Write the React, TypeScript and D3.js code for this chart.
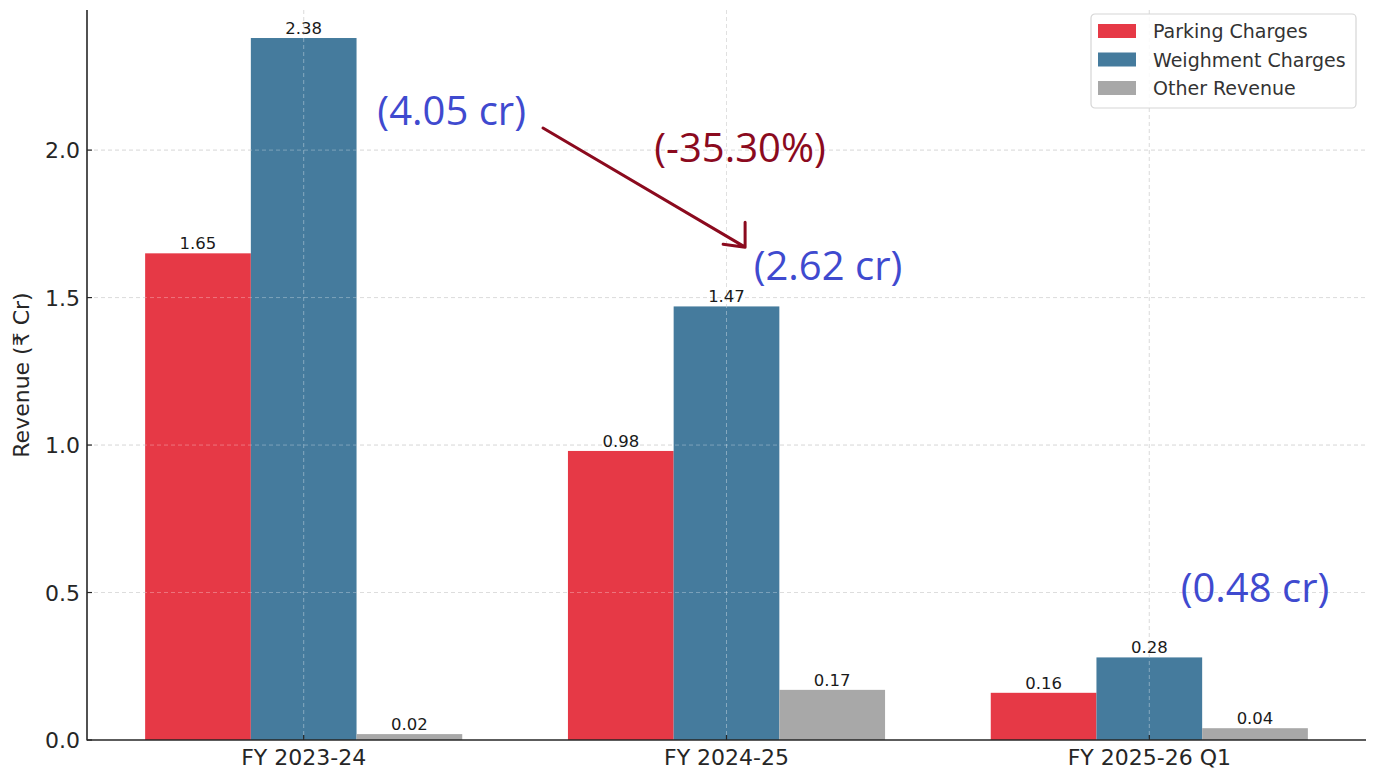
import { useEffect, useRef } from 'react'
import * as d3 from 'd3'

const categories = ['FY 2023-24', 'FY 2024-25', 'FY 2025-26 Q1']
const seriesNames = ['Parking Charges', 'Weighment Charges', 'Other Revenue']
const parking = [1.65, 0.98, 0.16]
const weighment = [2.38, 1.47, 0.28]
const other = [0.02, 0.17, 0.04]
const yTicks = [0.0, 0.5, 1.0, 1.5, 2.0]

// overlay notes, placed in data space (category index, revenue)
const totals = [
  { text: '(4.05 cr)', x: 0.35, y: 2.12 },
  { text: '(2.62 cr)', x: 1.24, y: 1.595 },
  { text: '(0.48 cr)', x: 2.25, y: 0.505 },
]
const changeNote = { text: '(-35.30%)', x: 1.032, y: 1.995 }
const arrowFrom = [0.566, 2.075]
const arrowTo = [1.044, 1.671]

const COLORS = ['#E63946', '#457B9D', '#A8A8A8']
const FONT = 'DejaVu Sans, sans-serif'

export default function App() {
  const svgRef = useRef<SVGSVGElement>(null)

  useEffect(() => {
    if (!svgRef.current) return
    const svg = d3.select(svgRef.current)
    svg.selectAll('*').remove()

    const W = 1375
    const H = 769
    const margin = { top: 10, right: 9, bottom: 29, left: 87 }

    const x = d3.scaleLinear().domain([-0.5125, 2.5125]).range([margin.left, W - margin.right])
    const y = d3.scaleLinear().domain([0, 2.475]).range([H - margin.bottom, margin.top])
    const barW = x(0.25) - x(0)
    const series = [parking, weighment, other]

    // grid
    const grid = svg.append('g')
    yTicks.filter(t => t > 0).forEach(t => {
      grid.append('line')
        .attr('x1', x.range()[0]).attr('x2', x.range()[1])
        .attr('y1', y(t)).attr('y2', y(t))
        .attr('stroke', '#cfcfcf').attr('stroke-width', 1).attr('stroke-dasharray', '4,3')
    })
    categories.forEach((_, i) => {
      grid.append('line')
        .attr('x1', x(i)).attr('x2', x(i))
        .attr('y1', y.range()[1]).attr('y2', y.range()[0])
        .attr('stroke', '#cfcfcf').attr('stroke-width', 1).attr('stroke-dasharray', '4,3')
    })

    // bars
    const bars = svg.append('g')
    series.forEach((vals, s) => {
      vals.forEach((v, i) => {
        const cx = i + (s - 1) * 0.25
        bars.append('rect')
          .attr('x', x(cx - 0.125)).attr('y', y(v))
          .attr('width', barW).attr('height', y(0) - y(v))
          .attr('fill', COLORS[s])
      })
    })

    // grid lines show over the bars faintly
    categories.forEach((_, i) => {
      svg.append('line')
        .attr('x1', x(i)).attr('x2', x(i))
        .attr('y1', y.range()[1]).attr('y2', y.range()[0])
        .attr('stroke', '#ffffff').attr('stroke-opacity', 0.35).attr('stroke-width', 1).attr('stroke-dasharray', '4,3')
    })
    yTicks.filter(t => t > 0).forEach(t => {
      svg.append('line')
        .attr('x1', x.range()[0]).attr('x2', x.range()[1])
        .attr('y1', y(t)).attr('y2', y(t))
        .attr('stroke', '#ffffff').attr('stroke-opacity', 0.3).attr('stroke-width', 1).attr('stroke-dasharray', '4,3')
    })

    // value labels
    series.forEach((vals, s) => {
      vals.forEach((v, i) => {
        const cx = i + (s - 1) * 0.25
        svg.append('text')
          .attr('x', x(cx)).attr('y', y(v) - 4)
          .attr('text-anchor', 'middle').attr('font-family', FONT).attr('font-size', '16.5px')
          .attr('fill', '#1a1a1a').text(v.toFixed(2))
      })
    })

    // axes — left & bottom spines only, inward ticks
    const axisColor = '#262626'
    svg.append('line')
      .attr('x1', x.range()[0]).attr('x2', x.range()[0])
      .attr('y1', y.range()[1]).attr('y2', y.range()[0] + 0.5)
      .attr('stroke', axisColor).attr('stroke-width', 1.6)
    svg.append('line')
      .attr('x1', x.range()[0]).attr('x2', x.range()[1])
      .attr('y1', y(0)).attr('y2', y(0))
      .attr('stroke', axisColor).attr('stroke-width', 1.6)

    yTicks.forEach(t => {
      svg.append('line')
        .attr('x1', x.range()[0]).attr('x2', x.range()[0] + 5)
        .attr('y1', y(t)).attr('y2', y(t))
        .attr('stroke', axisColor).attr('stroke-width', 1.2)
      svg.append('text')
        .attr('x', x.range()[0] - 7).attr('y', y(t) + 8)
        .attr('text-anchor', 'end').attr('font-family', FONT).attr('font-size', '22px')
        .attr('fill', axisColor).text(t.toFixed(1))
    })
    categories.forEach((c, i) => {
      svg.append('line')
        .attr('x1', x(i)).attr('x2', x(i))
        .attr('y1', y(0)).attr('y2', y(0) - 5)
        .attr('stroke', axisColor).attr('stroke-width', 1.2)
      svg.append('text')
        .attr('x', x(i)).attr('y', y(0) + 25)
        .attr('text-anchor', 'middle').attr('font-family', FONT).attr('font-size', '22px')
        .attr('fill', axisColor).text(c)
    })

    svg.append('text')
      .attr('transform', `translate(29,${(y.range()[0] + y.range()[1]) / 2}) rotate(-90)`)
      .attr('text-anchor', 'middle').attr('font-family', FONT).attr('font-size', '22px')
      .attr('fill', axisColor).text('Revenue (₹ Cr)')

    // legend
    const lg = svg.append('g').attr('transform', 'translate(1091,14)')
    lg.append('rect').attr('width', 265).attr('height', 94).attr('rx', 4)
      .attr('fill', '#fff').attr('fill-opacity', 0.85).attr('stroke', '#d6d6d6').attr('stroke-width', 1.2)
    seriesNames.forEach((n, i) => {
      lg.append('rect').attr('x', 7).attr('y', 10 + i * 28.5).attr('width', 38).attr('height', 14)
        .attr('fill', COLORS[i])
      lg.append('text').attr('x', 62).attr('y', 24 + i * 28.5)
        .attr('font-family', FONT).attr('font-size', '19px').attr('fill', '#333').text(n)
    })

    // overlay annotations
    const NOTE_FONT = 'Open Sans, Lato, sans-serif'
    totals.forEach(t => {
      svg.append('text')
        .attr('x', x(t.x)).attr('y', y(t.y))
        .attr('text-anchor', 'middle').attr('dominant-baseline', 'middle')
        .attr('font-family', NOTE_FONT).attr('font-size', '40px')
        .attr('fill', '#3F4ACF').text(t.text)
    })
    svg.append('text')
      .attr('x', x(changeNote.x)).attr('y', y(changeNote.y))
      .attr('text-anchor', 'middle').attr('dominant-baseline', 'middle')
      .attr('font-family', NOTE_FONT).attr('font-size', '40px')
      .attr('fill', '#8B0A1E').text(changeNote.text)

    const ax0 = x(arrowFrom[0]), ay0 = y(arrowFrom[1])
    const ax1 = x(arrowTo[0]), ay1 = y(arrowTo[1])
    svg.append('path')
      .attr('d', `M${ax0},${ay0} L${ax1},${ay1} M${ax1},${ay1 - 25} L${ax1},${ay1} L${ax1 - 22},${ay1 - 3}`)
      .attr('fill', 'none').attr('stroke', '#8B0A1E').attr('stroke-width', 3)
      .attr('stroke-linecap', 'round').attr('stroke-linejoin', 'round')
  }, [])

  return (
    <svg ref={svgRef} width={1375} height={769}
      style={{ position: 'absolute', left: 0, top: 0, background: '#fff' }} />
  )
}
